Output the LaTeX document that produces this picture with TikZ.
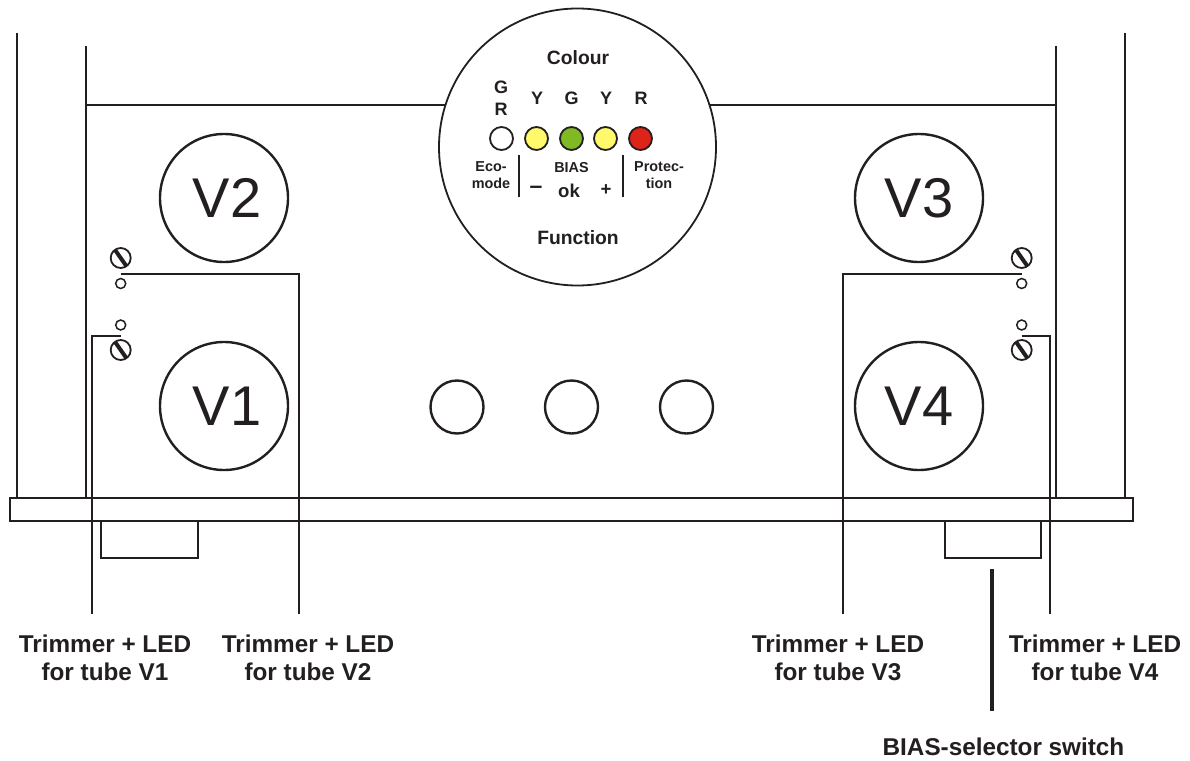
\documentclass[tikz,border=0pt]{standalone}
\usepackage{fontspec}
\usepackage{xcolor}
\setmainfont{Liberation Sans}
\definecolor{ink}{HTML}{231F20}
\definecolor{lampyellow}{HTML}{FFF96B}
\definecolor{lampgreen}{HTML}{7FBA24}
\definecolor{lampred}{HTML}{DE2318}

\begin{document}
\begin{tikzpicture}[x=1pt,y=-1pt,
              every node/.style = {align=center, inner sep=0pt, outer sep=0pt, text=ink},
              thinline/.style = {draw=ink, line width=1.5pt},
              leader/.style = {draw=ink, line width=2.6pt},
              divider/.style = {draw=ink, line width=2.2pt},
              slot/.style = {draw=ink, line width=4pt},
              tube/.style = {shape=circle, draw=ink, line width=2.4pt, minimum size=128pt, font=\fontsize{56}{60}\selectfont},
              knob/.style = {shape=circle, draw=ink, line width=2.4pt, minimum size=53pt},
              screw/.style = {shape=circle, draw=ink, line width=1.8pt, minimum size=20pt},
              ledhole/.style = {shape=circle, draw=ink, line width=1.5pt, minimum size=10pt},
              lamp/.style = {shape=circle, draw=ink, line width=1.8pt, minimum size=23pt},
              tag/.style = {font=\bfseries\fontsize{24.3}{28}\selectfont},
              head/.style = {font=\bfseries\fontsize{19.3}{22}\selectfont},
              letter/.style = {font=\bfseries\fontsize{18}{21.7}\selectfont},
              small/.style = {font=\bfseries\fontsize{14.4}{16.5}\selectfont}]
            \useasboundingbox (0,0) rectangle (1190,760);

            \draw[thinline] (17,33) -- (17,498);
            \draw[thinline] (86,46) -- (86,498);
            \draw[thinline] (1056,46) -- (1056,498);
            \draw[thinline] (1125,33) -- (1125,498);
            \draw[thinline] (86,105) -- (1056,105);
            \draw[thinline] (10,498) rectangle (1133,521);
            \draw[thinline] (101,521) rectangle (198,558);
            \draw[thinline] (945,521) rectangle (1041,558);

            \node[shape=circle, draw=ink, line width=1.8pt, fill=white, minimum size=277pt] (dial) at (577.5,147) {};
            \node[head] (colour) at (578,58) {Colour};
            \node[head] (function) at (578,238) {Function};

            \node[letter] (gr) at (501,98) {G\\R};
            \node[letter] (y1) at (537,98) {Y};
            \node[letter] (g) at (571.5,98) {G};
            \node[letter] (y2) at (606,98) {Y};
            \node[letter] (r) at (641,98) {R};

            \node[lamp, fill=white] (lampeco) at (501.5,138.5) {};
            \node[lamp, fill=lampyellow] (lampminus) at (536.5,138.5) {};
            \node[lamp, fill=lampgreen] (lampok) at (571.5,138.5) {};
            \node[lamp, fill=lampyellow] (lampplus) at (605.5,138.5) {};
            \node[lamp, fill=lampred] (lampprot) at (640.5,138.5) {};

            \node[small] (eco) at (491,175) {Eco-\\mode};
            \node[small] (bias) at (571.5,167.5) {BIAS};
            \node[small] (prot) at (659,175) {Protec-\\tion};
            \node[font=\bfseries\fontsize{23}{25}\selectfont] (minus) at (536,190) {–};
            \node[font=\bfseries\fontsize{18.6}{21}\selectfont] (ok) at (569,190.5) {ok};
            \node[font=\bfseries\fontsize{18.6}{21}\selectfont] (plus) at (606,190.5) {+};

            \coordinate (divatop) at (519,155);
            \coordinate (divabot) at (519,197);
            \coordinate (divbtop) at (623,155);
            \coordinate (divbbot) at (623,197);
            \draw[divider] (divatop) -- (divabot);
            \draw[divider] (divbtop) -- (divbbot);

            \node[tube] (V2) at (224,198) {\kern6pt V2};
            \node[tube] (V1) at (224,406) {\kern6pt V1};
            \node[tube] (V3) at (919,198) {V3};
            \node[tube] (V4) at (919,406) {V4};

            \node[knob] (knoba) at (457,407) {};
            \node[knob] (knobb) at (571.5,407) {};
            \node[knob] (knobc) at (686.5,407) {};

            \node[screw] (screwtwo) at (120.7,258) {};
            \node[ledhole] (ledtwo) at (120.7,283.5) {};
            \node[ledhole] (ledone) at (120.7,325) {};
            \node[screw] (screwone) at (120.7,350) {};
            \node[screw] (screwthree) at (1021.7,258) {};
            \node[ledhole] (ledthree) at (1021.7,283.5) {};
            \node[ledhole] (ledfour) at (1021.7,325) {};
            \node[screw] (screwfour) at (1021.7,350) {};
            \draw[slot] (screwtwo.125) -- (screwtwo.-55);
            \draw[slot] (screwone.125) -- (screwone.-55);
            \draw[slot] (screwthree.125) -- (screwthree.-55);
            \draw[slot] (screwfour.125) -- (screwfour.-55);

            \node[tag] (tagone) at (105,658) {Trimmer + LED\\for tube V1};
            \node[tag] (tagtwo) at (308,658) {Trimmer + LED\\for tube V2};
            \node[tag] (tagthree) at (838,658) {Trimmer + LED\\for tube V3};
            \node[tag] (tagfour) at (1095,658) {Trimmer + LED\\for tube V4};
            \node[tag] (tagbias) at (1003.5,747) {BIAS-selector switch};

            \coordinate (startone) at (120.7,336);
            \coordinate (starttwo) at (120.7,274);
            \coordinate (startthree) at (1021.7,274);
            \coordinate (startfour) at (1021.7,336);
            \coordinate (endone) at (92,614);
            \coordinate (endtwo) at (299,614);
            \coordinate (endthree) at (843,614);
            \coordinate (endfour) at (1050,614);
            \coordinate (switchtop) at (992,569);
            \coordinate (switchbot) at (992,711);
            \draw[leader] (startone) -| (endone);
            \draw[leader] (starttwo) -| (endtwo);
            \draw[leader] (startthree) -| (endthree);
            \draw[leader] (startfour) -| (endfour);
            \draw[leader, line width=3.4pt] (switchtop) -- (switchbot);
            \end{tikzpicture}
\end{document}
